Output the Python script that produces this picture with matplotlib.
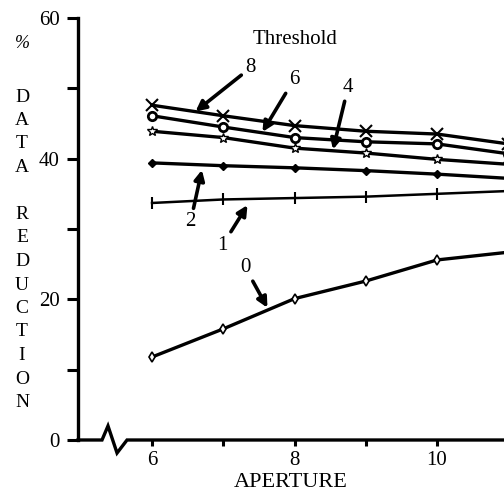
import matplotlib
matplotlib.use("Agg")
import matplotlib.pyplot as plt

plt.rcParams['font.family'] = ['Liberation Serif', 'DejaVu Serif']

aperture = [6, 7, 8, 9, 10, 11]
t8 = [47.6, 46.1, 44.7, 43.9, 43.5, 42.1]
t6 = [46.1, 44.5, 43.0, 42.4, 42.1, 40.7]
t4 = [43.9, 43.0, 41.5, 40.8, 39.9, 39.2]
t2 = [39.4, 39.0, 38.7, 38.3, 37.8, 37.2]
t1 = [33.7, 34.2, 34.4, 34.6, 35.0, 35.4]
t0 = [11.8, 15.8, 20.1, 22.6, 25.6, 26.7]

yticks = [0, 10, 20, 30, 40, 50, 60]
ylabels = ['0', '', '20', '', '40', '', '60']
xticks = [6, 7, 8, 9, 10]
xlabels = ['6', '', '8', '', '10']

fig = plt.figure(figsize=(5.04, 4.97), dpi=100)
ax = fig.add_axes([78/504, 57/497, 426/504, 422/497])

lw = 2.4
ax.plot(aperture, t8, color='black', lw=lw, marker='x', ms=8, mew=1.5)
ax.plot(aperture, t6, color='black', lw=lw, marker='o', ms=6, mfc='white', mew=2)
ax.plot(aperture, t4, color='black', lw=lw, marker='*', ms=7, mfc='white', mew=1)
ax.plot(aperture, t2, color='black', lw=lw, marker='D', ms=4)
ax.plot(aperture, t1, color='black', lw=1.8, marker='|', ms=8, mew=1.5)
ax.plot(aperture, t0, color='black', lw=lw, marker='d', ms=5, mfc='white', mew=1.2)

ax.set_xlim(4.961, 10.94)
ax.set_ylim(0, 60)

ax.spines['top'].set_visible(False)
ax.spines['right'].set_visible(False)
ax.spines['bottom'].set_visible(False)
ax.spines['left'].set_linewidth(2.4)

# x axis line with a break
ax.plot([4.961, 5.298, 5.382, 5.509, 5.649, 11.5], [0, 0, 2.0, -1.85, 0, 0],
        color='black', lw=2.4, clip_on=False, solid_joinstyle='miter')

ax.set_yticks(yticks)
ax.set_yticklabels(ylabels)
ax.set_xticks(xticks)
ax.set_xticklabels(xlabels)
ax.tick_params(axis='y', direction='out', length=8, width=2.2, pad=5, labelsize=15)
ax.tick_params(axis='x', direction='out', length=4, width=2.2, pad=4, labelsize=15)

ax.set_xlabel('APERTURE', fontsize=16, labelpad=2)

ax.text(8.01, 56.9, 'Threshold', fontsize=15, ha='center', va='center')

arrow = dict(arrowstyle='-|>', lw=2.6, mutation_scale=15, color='black',
             shrinkA=1, shrinkB=0)
notes = [('8', (7.38, 52.9), (6.61, 46.7)),
         ('6', (7.99, 51.2), (7.55, 43.8)),
         ('4', (8.75, 50.1), (8.54, 41.3)),
         ('2', (6.54, 31.0), (6.70, 38.4)),
         ('1', (6.99, 27.7), (7.34, 33.4)),
         ('0', (7.31, 24.5), (7.62, 18.8))]
for lab, txt, head in notes:
    ax.annotate(lab, xy=head, xytext=txt, fontsize=15, ha='center', va='center',
                arrowprops=arrow)

# stacked y label
fig.text(22/504, 1 - 43/497, '%', fontsize=13, ha='center', va='center',
         style='italic')
letters = 'DATA REDUCTION'
for i, ch in enumerate(letters):
    if ch == ' ':
        continue
    fig.text(22/504, 1 - (97 + 23.5*i)/497, ch, fontsize=14,
             ha='center', va='center')

fig.savefig('out.png', dpi=100)
